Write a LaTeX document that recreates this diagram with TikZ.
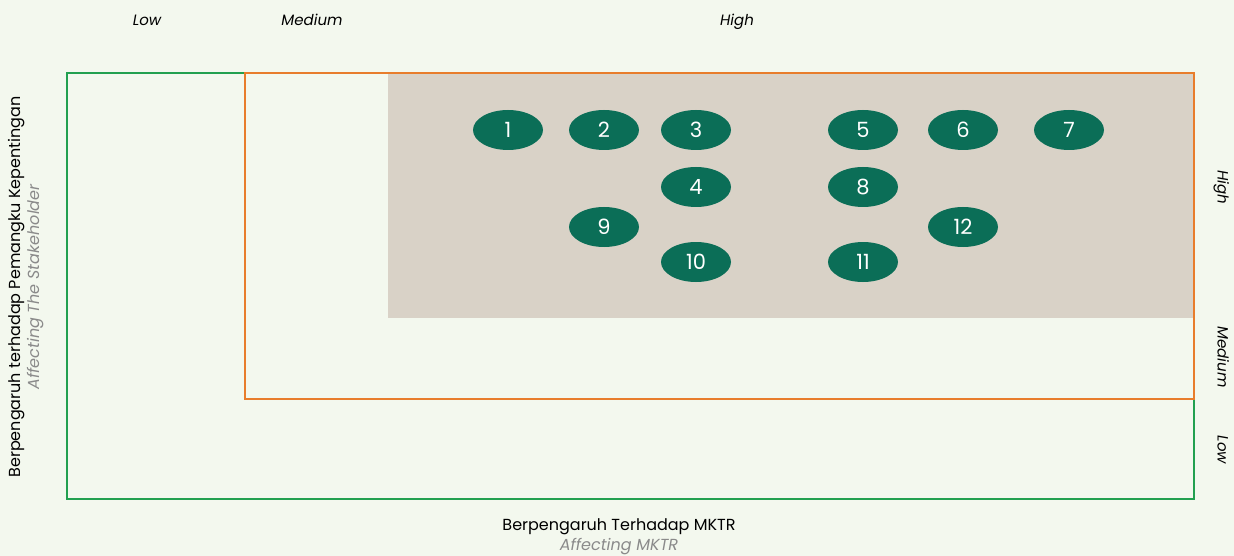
\documentclass[tikz,border=0pt]{standalone}
\usepackage{fontspec}
\setmainfont{Poppins}
\usepackage{tikz}
\usetikzlibrary{shapes.geometric}
\definecolor{bgpale}{HTML}{F3F8EE}
\definecolor{lowgreen}{HTML}{22A050}
\definecolor{midorange}{HTML}{E87D2C}
\definecolor{highbeige}{HTML}{D9D2C7}
\definecolor{dotgreen}{HTML}{0B6E57}
\definecolor{subgray}{HTML}{8A8A8A}
\tikzset{
  issue/.style={ellipse, fill=dotgreen, text=white, minimum width=70pt,
    minimum height=40pt, inner sep=0pt, font=\fontsize{21}{21}\selectfont},
  level/.style={font=\fontsize{15}{15}\selectfont\itshape, text height=1.5ex, text depth=.3ex},
  axis/.style={font=\fontsize{16}{16}\selectfont, align=center}
}
\begin{document}
\begin{tikzpicture}[x=1pt, y=-1pt]
  \useasboundingbox (0,0) rectangle (1234,556);
  \fill [bgpale] (0,0) rectangle (1234,556);
  % zones
  \fill [highbeige] (388,74) rectangle (1194,318);
  \draw [lowgreen, line width=1.5pt] (67,73) rectangle (1194,499);
  \draw [midorange, line width=1.5pt] (245,73) rectangle (1194,399);
  % level labels
  \node [level] (xlow) at (147,22.5) {Low};
  \node [level] (xmed) at (312,22.5) {Medium};
  \node [level] (xhigh) at (737,22.5) {High};
  \node [level, rotate=-90] (yhigh) at (1221,187) {High};
  \node [level, rotate=-90] (ymed) at (1221,357) {Medium};
  \node [level, rotate=-90] (ylow) at (1221,450) {Low};
  % axis titles
  \node [axis, rotate=90] (ytitle) at (17,287) {Berpengaruh terhadap Pemangku Kepentingan};
  \node [axis, rotate=90, text=subgray] (ysub) at (36,287) {\itshape Affecting The Stakeholder};
  \node [axis] (xtitle) at (619,527) {Berpengaruh Terhadap MKTR};
  \node [axis, text=subgray] (xsub) at (619,547) {\itshape Affecting MKTR};
  % issues
  \node [issue] (i1) at (508,130) {1};
  \node [issue] (i2) at (604,130) {2};
  \node [issue] (i3) at (696,130) {3};
  \node [issue] (i4) at (696,187) {4};
  \node [issue] (i5) at (863,130) {5};
  \node [issue] (i6) at (963,130) {6};
  \node [issue] (i7) at (1069,130) {7};
  \node [issue] (i8) at (863,187) {8};
  \node [issue] (i9) at (604,227) {9};
  \node [issue] (i10) at (696,262) {10};
  \node [issue] (i11) at (863,262) {11};
  \node [issue] (i12) at (963,227) {12};
\end{tikzpicture}
\end{document}
